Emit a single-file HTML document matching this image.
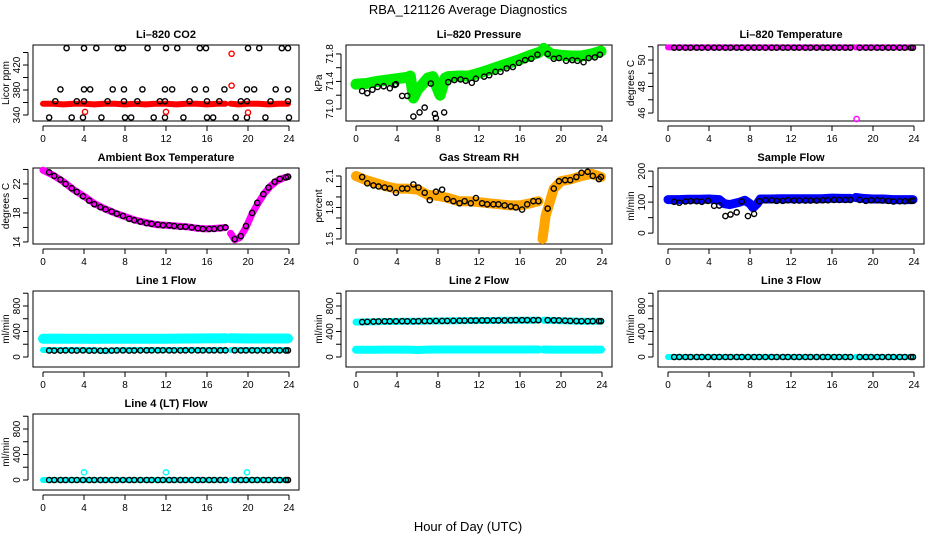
<!DOCTYPE html>
<html><head><meta charset="utf-8">
<style>
html,body{margin:0;padding:0;background:#fff;}
svg{display:block;font-family:"Liberation Sans",sans-serif;}
</style></head>
<body>
<svg id="chart" width="936" height="540" viewBox="0 0 936 540">
<text x="468" y="14" text-anchor="middle" font-size="13">RBA_121126  Average Diagnostics</text>
<text x="468" y="531" text-anchor="middle" font-size="13">Hour of Day (UTC)</text>
</svg>
<script>
// shared sample times for black points
const T = [0.6,1.1,1.7,2.2,2.8,3.3,3.9,4.5,5.0,5.6,6.1,6.7,7.2,7.8,8.4,8.9,9.5,10.1,10.6,11.2,11.7,12.3,12.8,13.4,13.9,14.5,15.1,15.6,16.2,16.7,17.3,17.8,18.7,19.3,19.8,20.4,20.9,21.5,22.0,22.6,23.1,23.7,23.9];
// band times (null = gap)
const BT = [0,1,2,3,4,5,6,7,8,9,10,11,12,13,14,15,16,17,17.8,null,18.3,19,20,21,22,23,23.9];
const xTicks = [0,4,8,12,16,20,24];

// CO2
const co2T = [2.3,4.0,5.2,7.3,7.8,10.2,12.0,13.1,15.3,15.9,20.0,21.1,23.3,23.9, 1.7,4.0,4.6,6.8,7.9,9.7,11.9,12.6,14.8,15.9,17.7,19.9,20.6,22.7,23.9, 1.2,3.3,4.0,6.3,7.9,9.2,11.4,11.9,14.3,16.0,17.2,19.3,19.9,22.2,23.9, 0.6,2.8,3.9,5.7,8.0,8.6,10.8,11.9,13.7,16.0,16.6,18.8,19.9,21.7,24.0];
const co2V = [447,447,447,447,447,447,447,447,447,447,447,447,447,447, 381,381,381,381,381,381,381,381,381,381,381,381,381,381,381, 362,362,362,362,362,362,362,362,362,362,362,362,362,362,362, 336,336,336,336,336,336,336,336,336,336,336,336,336,336,336];
const co2Band = [358,358,357,358,358,357,358,358,357,358,357,358,358,357,358,358,357,358,358,null,358,357,358,358,357,358,358];
const co2RedT = [18.4,18.4,4.1,12.0,20.0];
const co2RedV = [438,387,345,345,344];

// Pressure
const prT = [0.6,1.1,1.6,2.1,2.7,3.3,3.8,3.9,4.5,5.0,5.6,6.2,6.7,7.3,7.7,7.8,8.6,9.0,9.6,10.2,10.7,11.3,11.7,12.5,13.0,13.6,14.1,14.7,15.3,15.9,16.5,17.1,17.7,18.7,19.3,19.8,20.5,21.1,21.6,22.2,22.7,23.3,23.8];
const prV = [71.26,71.23,71.28,71.32,71.33,71.30,71.35,71.36,71.19,71.19,70.89,70.95,71.02,71.37,70.93,70.87,70.95,71.39,71.42,71.43,71.41,71.38,71.44,71.47,71.49,71.54,71.54,71.59,71.61,71.67,71.71,71.73,71.79,71.80,71.73,71.74,71.70,71.71,71.70,71.68,71.74,71.75,71.79];
const prBandT = [0,1,2,3,4,5,5.3,5.6,6,6.5,7,7.5,7.8,8.2,8.7,9,10,11,12,13,14,15,16,17,17.8,null,18.3,19,20,21,22,23,23.9];
const prBandV = [71.36,71.37,71.40,71.42,71.44,71.46,71.48,71.16,71.28,71.36,71.45,71.47,71.35,71.2,71.45,71.47,71.48,71.48,71.52,71.57,71.62,71.67,71.72,71.78,71.82,null,71.88,71.80,71.78,71.77,71.77,71.80,71.84];

// Li-820 temperature
const ltV = [50.93,50.93,50.93,50.93,50.93,50.93,50.93,50.93,50.93,50.93,50.93,50.93,50.93,50.93,50.93,50.93,50.93,50.93,50.93,50.93,50.93,50.93,50.93,50.93,50.93,50.93,50.93,50.93,50.93,50.93,50.93,50.93,50.93,50.93,50.93,50.93,50.93,50.93,50.93,50.93,50.93,50.93,50.93];
const ltBand = [50.95,50.95,50.95,50.95,50.95,50.95,50.95,50.95,50.95,50.95,50.95,50.95,50.95,50.95,50.95,50.95,50.95,50.95,50.95,null,50.95,50.95,50.95,50.95,50.95,50.95,50.95];
const ltOutT = [18.4];
const ltOutV = [45.55];

// Ambient box temperature
const abV = [23.6,23.1,22.6,22.0,21.4,20.9,20.3,19.7,19.2,18.8,18.5,18.2,17.9,17.6,17.2,17.0,16.8,16.6,16.5,16.4,16.3,16.3,16.2,16.1,16.1,16.0,15.9,15.8,15.8,15.8,15.9,16.0,14.4,14.8,16.2,18.0,19.4,20.6,21.5,22.3,22.7,22.9,23.0];
const abBandT = [0,1,2,3,4,5,6,7,8,9,10,11,12,13,14,15,16,17,17.8,null,18.3,18.7,19.2,19.8,20.4,21,21.6,22.2,22.8,23.4,23.9];
const abBandV = [23.9,23.2,22.3,21.2,20.3,19.3,18.6,18.0,17.5,17.0,16.7,16.4,16.3,16.2,16.1,15.9,15.8,15.9,16.0,null,15.2,14.3,14.6,16.0,17.9,19.4,20.7,21.7,22.4,22.8,23.0];

// Gas stream RH
const rhV = [2.09,2.03,2.01,2.00,1.99,1.98,1.94,1.98,1.98,2.02,1.99,1.94,1.87,1.95,1.97,1.88,1.86,1.84,1.86,1.84,1.89,1.84,1.83,1.83,1.83,1.82,1.81,1.80,1.78,1.83,1.86,1.86,1.79,1.98,2.05,2.06,2.06,2.09,2.13,2.14,2.10,2.07,2.09];
const rhBandT = [0,1,2,3,4,5,6,7,8,9,10,11,12,13,14,15,16,17,17.8,null,18.2,18.5,18.9,19.3,20,21,22,23,23.9];
const rhBandV = [2.10,2.06,2.03,2.00,1.98,1.98,1.97,1.92,1.91,1.89,1.86,1.86,1.85,1.84,1.83,1.82,1.82,1.84,1.86,null,1.50,1.72,1.85,1.98,2.05,2.07,2.10,2.12,2.09];

// Sample flow
const sfV = [101,98,102,103,103,101,104,88,89,55,60,67,102,55,62,103,106,106,104,104,106,105,105,105,105,105,106,106,107,107,107,107,107,104,106,106,105,104,102,103,103,104,105];
const sfBandT = [0,1,2,3,4,5,5.5,6,7,7.5,8,8.3,8.7,9,10,11,12,13,14,15,16,17,17.8,null,18.3,19,20,21,22,23,23.9];
const sfBandV = [108,108,109,109,110,108,95,92,100,106,95,82,95,110,110,111,111,111,111,111,113,112,112,null,115,112,110,110,108,108,108];

// Line flows
const l1V = [102,100,101,103,102,101,104,100,101,99,100,101,103,104,101,102,103,104,104,104,105,104,103,103,104,104,104,104,104,104,104,104,104,103,104,104,103,103,103,103,103,102,103];
const l1BandA = [285,288,287,286,285,284,285,285,286,287,286,287,286,288,290,290,291,292,293,null,295,292,290,290,290,290,290];
const l1BandB = [110,110,110,110,110,108,95,105,110,110,110,110,110,110,110,110,110,110,110,null,110,110,110,110,110,110,110];
const l2V = [548,552,555,558,560,560,560,562,560,560,562,564,564,566,566,566,568,570,570,572,572,574,574,574,574,574,576,578,578,578,578,578,578,576,574,570,566,564,562,562,562,562,562];
const l2BandA = [548,550,553,556,558,560,562,564,565,566,568,570,572,573,574,575,576,577,578,null,576,574,568,565,562,562,562];
const l2BandB = [115,115,115,116,116,116,110,116,117,117,117,117,117,117,117,117,117,117,117,null,117,116,116,116,116,116,116];
const zeroV = [0,0,0,0,0,0,0,0,0,0,0,0,0,0,0,0,0,0,0,0,0,0,0,0,0,0,0,0,0,0,0,0,0,0,0,0,0,0,0,0,0,0,0];
const zeroBand = [0,0,0,0,0,0,0,0,0,0,0,0,0,0,0,0,0,0,0,null,0,0,0,0,0,0,0];
const l4OutT = [4.0,12.0,19.9];
const l4OutV = [120,120,120];

const NS = "http://www.w3.org/2000/svg";
const svg = document.getElementById('chart');
const colLeft = [33,346,658], rowTop = [45,168,291,414], W = 266, H = 76;

function mk(tag, attrs, parent){
  const e = document.createElementNS(NS, tag);
  for (const k in attrs) e.setAttribute(k, attrs[k]);
  (parent||svg).appendChild(e);
  return e;
}

function panel(col,row,slug,title,ylab,ymin,ymax,ticks,labels){
  const L = colLeft[col], Tp = rowTop[row];
  const g = mk('g',{});
  
  
  const xs = h => L + 10 + h*10.25;
  const ys = v => Tp + H - (v - ymin)/(ymax - ymin)*H;
  const t = mk('text',{x:L+W/2,y:Tp-7,'text-anchor':'middle','font-size':11,'font-weight':'bold'},g);
  t.textContent = title;
  
  
  const box = mk('rect',{x:L,y:Tp,width:W,height:H,fill:'none',stroke:'#000','stroke-width':1},g);
  
  
  // x axis
  const xa = mk('g',{},g);
  
  
  mk('line',{x1:xs(0),x2:xs(24),y1:Tp+H+5,y2:Tp+H+5,stroke:'#000'},xa);
  xTicks.forEach(h=>{
    mk('line',{x1:xs(h),x2:xs(h),y1:Tp+H+5,y2:Tp+H+10,stroke:'#000'},xa);
    const lt = mk('text',{x:xs(h),y:Tp+H+21,'text-anchor':'middle','font-size':10},xa);
    lt.textContent = h;
  });
  // y axis
  const ya = mk('g',{},g);
  
  
  mk('line',{x1:L-5,x2:L-5,y1:ys(ticks[0]),y2:ys(ticks[ticks.length-1]),stroke:'#000'},ya);
  ticks.forEach((v,i)=>{
    mk('line',{x1:L-10,x2:L-5,y1:ys(v),y2:ys(v),stroke:'#000'},ya);
    if (labels[i]!==''){
      const yt = mk('text',{x:0,y:0,'text-anchor':'middle','font-size':10,transform:`translate(${L-13},${ys(v)}) rotate(-90)`},ya);
      yt.textContent = labels[i];
    }
  });
  const yl = mk('text',{x:0,y:0,'text-anchor':'middle','font-size':10,transform:`translate(${L-24},${Tp+H/2}) rotate(-90)`},g);
  yl.textContent = ylab;
  
  
  const clip = mk('g',{},g);
  return {g:clip,xs,ys,slug};
}

function band(p,times,vals,color,w){
  let pts=[], segs=[];
  for (let i=0;i<times.length;i++){
    if (times[i]===null || vals[i]===null){ if(pts.length) segs.push(pts); pts=[]; continue; }
    pts.push(p.xs(times[i]).toFixed(1)+','+p.ys(vals[i]).toFixed(1));
  }
  if (pts.length) segs.push(pts);
  segs.forEach(s=>{
    const pl = mk('polyline',{points:s.join(' '),fill:'none',stroke:color,'stroke-width':w,'stroke-linejoin':'round','stroke-linecap':'round'},p.g);
    
    
  });
}
function pts(p,times,vals,color,r,sw){
  times.forEach((h,i)=>{
    const c = mk('circle',{cx:p.xs(h),cy:p.ys(vals[i]),r:r||2.6,fill:'none',stroke:color||'#000','stroke-width':sw||1.4},p.g);
    
    
  });
}

let p;
p = panel(0,0,'co2','Li\u2013820 CO2','Licor ppm',330.4,452,[340,360,380,400,420,440],['340','','380','','420','']);
band(p,BT,co2Band,'#ff0000',6);
pts(p,co2T,co2V);
pts(p,co2RedT,co2RedV,'#ff0000');

p = panel(1,0,'pressure','Li\u2013820 Pressure','kPa',70.825,71.93,[71.0,71.2,71.4,71.6,71.8],['71.0','','71.4','','71.8']);
band(p,prBandT,prBandV,'#00ee00',11);
pts(p,prT,prV);

p = panel(2,0,'li820-temp','Li\u2013820 Temperature','degrees C',45.4,51.13,[46,47,48,49,50,51],['46','','48','','50','']);
band(p,BT,ltBand,'#ff00ff',6);
pts(p,T,ltV);
pts(p,ltOutT,ltOutV,'#ff00ff');

p = panel(0,1,'ambient-temp','Ambient Box Temperature','degrees C',13.72,24.2,[14,16,18,20,22,24],['14','','18','','22','']);
band(p,abBandT,abBandV,'#ff00ff',7);
pts(p,T,abV);

p = panel(1,1,'gas-rh','Gas Stream RH','percent',1.452,2.176,[1.5,1.6,1.7,1.8,1.9,2.0,2.1],['1.5','','','1.8','','','2.1']);
band(p,rhBandT,rhBandV,'#ffa500',10);
pts(p,T,rhV);

p = panel(2,1,'sample-flow','Sample Flow','ml/min',-35,210,[0,50,100,150,200],['0','','100','','200']);
band(p,sfBandT,sfBandV,'#0000ff',9);
pts(p,T,sfV);

p = panel(0,2,'line1-flow','Line 1 Flow','ml/min',-157,1035,[0,200,400,600,800,1000],['0','','400','','800','']);
band(p,BT,l1BandA,'#00ffff',10);
band(p,BT,l1BandB,'#00ffff',6);
pts(p,T,l1V);

p = panel(1,2,'line2-flow','Line 2 Flow','ml/min',-157,1035,[0,200,400,600,800,1000],['0','','400','','800','']);
band(p,BT,l2BandA,'#00ffff',7);
band(p,BT,l2BandB,'#00ffff',8);
pts(p,T,l2V);

p = panel(2,2,'line3-flow','Line 3 Flow','ml/min',-157,1035,[0,200,400,600,800,1000],['0','','400','','800','']);
band(p,BT,zeroBand,'#00ffff',6);
pts(p,T,zeroV);

p = panel(0,3,'line4-flow','Line 4 (LT) Flow','ml/min',-157,1035,[0,200,400,600,800,1000],['0','','400','','800','']);
band(p,BT,zeroBand,'#00ffff',6);
pts(p,T,zeroV);
pts(p,l4OutT,l4OutV,'#00ffff');
</script>
</body></html>
